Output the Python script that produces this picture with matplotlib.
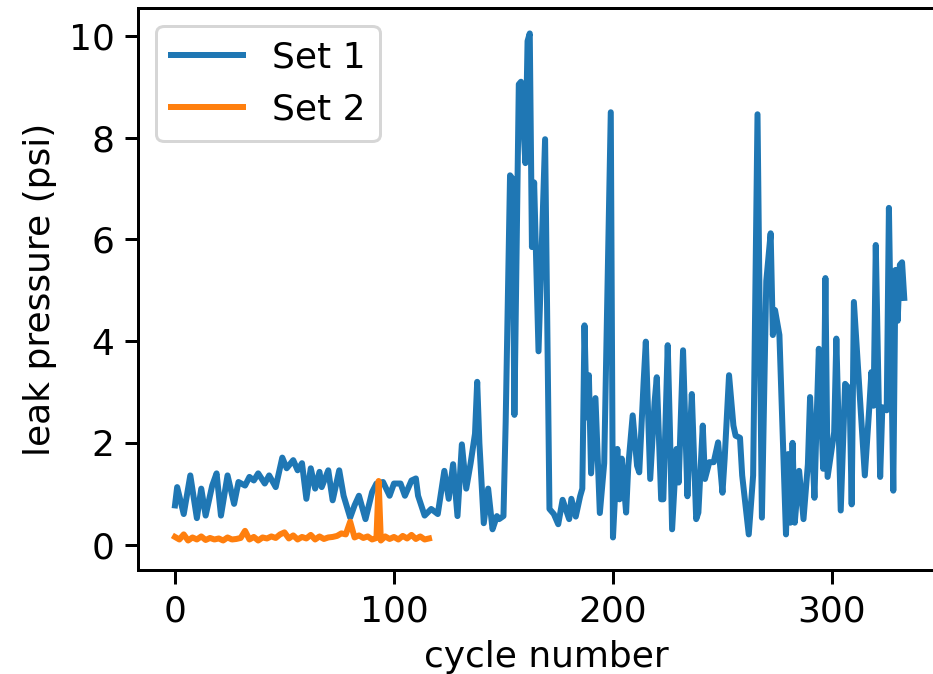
import numpy as np
import matplotlib
matplotlib.use('Agg')
import matplotlib.pyplot as plt

# Set 1 : cycle number and leak pressure (psi)
set1_cycle = [0, 1, 4, 7, 10, 12, 14, 17, 19, 21, 24, 27, 29, 32, 34, 36, 38, 41, 43, 46,
              49, 51, 54, 56, 58, 60, 62, 64, 66, 67, 70, 72, 75, 77, 80, 82, 84, 87, 90, 92,
              95, 98, 100, 103, 105, 108, 110, 111, 114, 117, 120, 123, 125, 127, 129, 131, 133, 135, 137, 138,
              139, 140, 141, 143, 145, 147, 148, 150, 151, 153, 154, 155, 157, 158, 160, 161, 162, 163, 164, 166,
              169, 171, 173, 175, 177, 180, 181, 183, 185, 186, 187, 188, 189, 190, 192, 194, 196, 199, 200, 202,
              203, 204, 206, 207, 209, 211, 212, 214, 215, 217, 219, 220, 222, 223, 225, 226, 227, 229, 230, 232,
              234, 235, 236, 238, 239, 241, 242, 244, 246, 248, 250, 251, 253, 255, 256, 258, 259, 262, 264, 266,
              268, 270, 272, 273, 274, 276, 279, 280, 281, 282, 283, 285, 287, 289, 290, 292, 293, 294, 296, 297,
              298, 301, 302, 304, 306, 308, 309, 310, 315, 317, 318, 319, 320, 322, 323, 325, 326, 328, 329, 330,
              331, 332, 333]
set1_pressure = [0.77, 1.13, 0.60, 1.36, 0.52, 1.10, 0.57, 1.16, 1.40, 0.57, 1.36, 0.80, 1.23, 1.16, 1.33, 1.26, 1.40, 1.20, 1.36, 1.13,
                 1.71, 1.50, 1.66, 1.46, 1.60, 0.90, 1.50, 1.10, 1.43, 1.13, 1.46, 0.87, 1.46, 0.96, 0.53, 0.77, 0.96, 0.50, 1.03, 1.20,
                 1.23, 0.96, 1.20, 1.20, 0.96, 1.26, 1.30, 0.96, 0.57, 0.70, 0.60, 1.45, 0.90, 1.58, 0.56, 1.97, 1.10, 1.60, 2.18, 3.20,
                 2.00, 1.20, 0.42, 1.10, 0.30, 0.56, 0.50, 0.56, 2.40, 7.26, 7.20, 2.55, 9.05, 9.10, 7.50, 9.90, 10.05, 5.85, 7.12, 3.80,
                 7.97, 0.70, 0.60, 0.40, 0.88, 0.50, 0.90, 0.55, 0.95, 1.10, 4.31, 2.50, 3.33, 1.40, 2.88, 0.62, 1.60, 8.50, 0.14, 1.88,
                 0.89, 1.69, 0.63, 1.55, 2.54, 1.55, 1.42, 3.20, 3.99, 1.29, 2.80, 3.29, 0.89, 0.89, 3.92, 2.27, 0.30, 1.88, 1.22, 3.82,
                 0.95, 2.01, 2.96, 0.50, 0.63, 2.34, 1.29, 1.62, 1.62, 2.01, 1.02, 1.69, 3.33, 2.34, 2.14, 2.10, 1.36, 0.20, 1.36, 8.46,
                 0.53, 5.18, 6.12, 4.12, 4.61, 4.12, 0.20, 1.78, 0.43, 2.00, 0.43, 1.45, 0.50, 1.58, 2.90, 0.92, 2.47, 3.85, 1.49, 5.24,
                 1.33, 2.21, 4.05, 0.67, 3.16, 3.06, 0.79, 4.77, 1.36, 2.67, 3.39, 2.73, 5.89, 1.33, 2.70, 2.64, 6.62, 1.06, 5.40, 4.40,
                 5.50, 5.55, 4.85]

# Set 2
set2_cycle = [0, 2, 4, 6, 8, 10, 12, 14, 16, 18, 20, 22, 24, 26, 28, 30, 32, 34, 36, 38,
              40, 42, 44, 46, 48, 50, 52, 54, 56, 58, 60, 62, 64, 66, 68, 70, 72, 74, 76, 78,
              80, 82, 84, 86, 88, 90, 92, 93, 94, 96, 98, 100, 102, 104, 106, 108, 110, 112, 114, 116]
set2_pressure = [0.15, 0.10, 0.20, 0.08, 0.14, 0.10, 0.16, 0.09, 0.13, 0.10, 0.12, 0.08, 0.14, 0.10, 0.11, 0.13, 0.27, 0.10, 0.15, 0.08,
                 0.14, 0.12, 0.16, 0.13, 0.20, 0.24, 0.12, 0.18, 0.10, 0.15, 0.12, 0.19, 0.10, 0.16, 0.11, 0.14, 0.15, 0.17, 0.22, 0.20,
                 0.45, 0.14, 0.18, 0.13, 0.16, 0.10, 0.13, 1.25, 0.08, 0.16, 0.11, 0.15, 0.10, 0.17, 0.12, 0.19, 0.11, 0.16, 0.10, 0.12]

# the reference looks like a default matplotlib figure blown up, so scale fonts/lines
plt.rcParams['font.size'] = 12
plt.rcParams['lines.linewidth'] = 2.0
plt.rcParams['axes.linewidth'] = 1.0
plt.rcParams['xtick.major.size'] = 4.5
plt.rcParams['ytick.major.size'] = 4.5
plt.rcParams['xtick.major.width'] = 1.0
plt.rcParams['ytick.major.width'] = 1.0

# figure at 933 x 674 px
dpi = 216
fig = plt.figure(figsize=(933 / dpi, 674 / dpi), dpi=dpi)

# the original picture is cropped on the right, so the axes run past the edge
x_lim = (-16.7, 356.0)
y_lim = (-0.5, 10.55)
left_px, bottom_px, top_px = 138.4, 570.0, 8.0
px_per_cycle = 2.19
ax = fig.add_axes([left_px / 933,
                   (674 - bottom_px) / 674,
                   (x_lim[1] - x_lim[0]) * px_per_cycle / 933,
                   (bottom_px - top_px) / 674])

ax.plot(set1_cycle, set1_pressure, label='Set 1')
ax.plot(set2_cycle, set2_pressure, label='Set 2')

ax.set_xlim(x_lim)
ax.set_ylim(y_lim)
ax.set_xticks([0, 100, 200, 300])
ax.set_yticks([0, 2, 4, 6, 8, 10])
ax.set_xlabel('cycle number')
ax.set_ylabel('leak pressure (psi)')
ax.legend(loc='upper left')
# right border is cut off in the reference crop
ax.spines['right'].set_visible(False)

fig.savefig('out.png', dpi=dpi)
plt.close(fig)
